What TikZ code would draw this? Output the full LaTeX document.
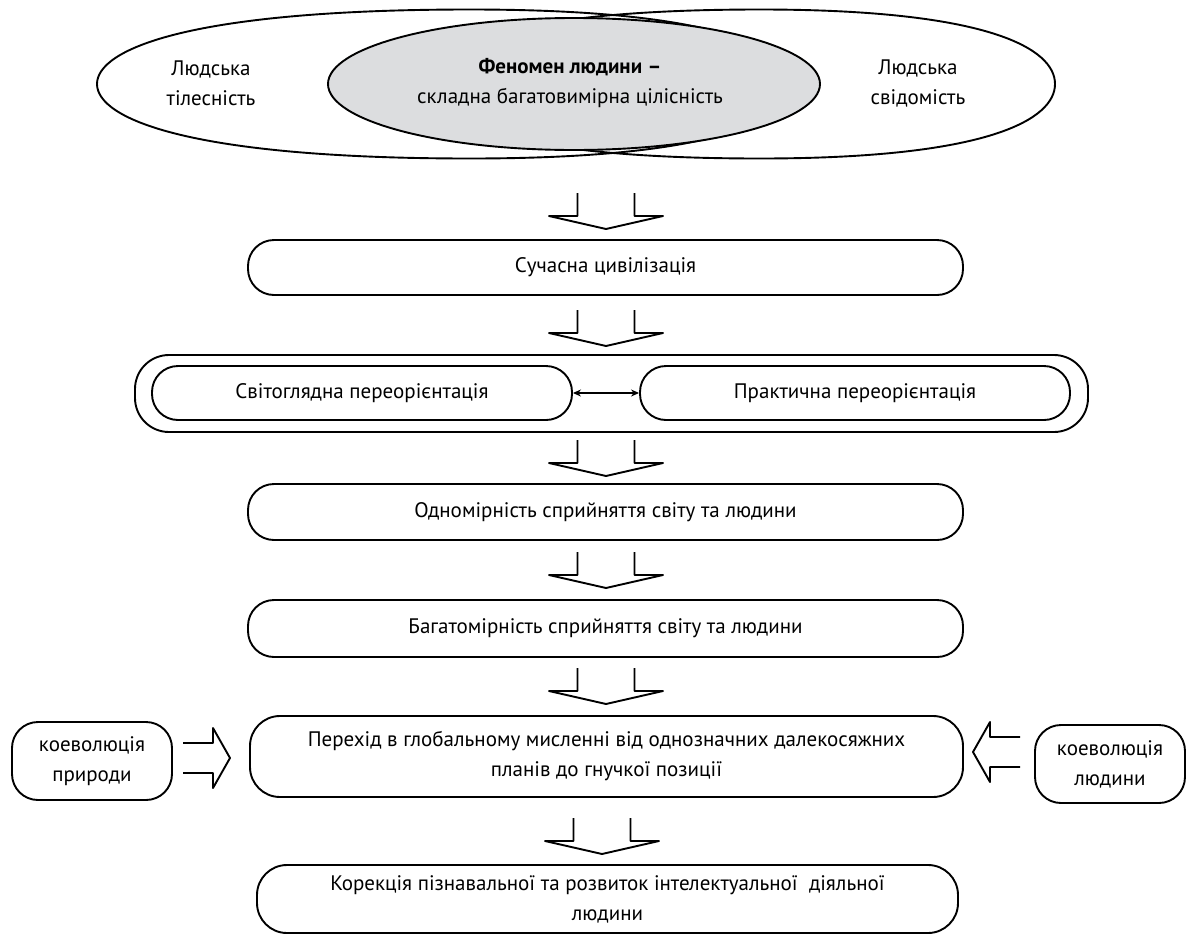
\documentclass[tikz,border=0pt]{standalone}
\usepackage{fontspec}
\setmainfont{PT Sans}
\usetikzlibrary{arrows.meta,shapes.geometric}
\definecolor{gry}{RGB}{220,221,223}
\tikzset{
  txt/.style={font=\fontsize{21}{30}\selectfont, align=center, inner sep=0pt},
  box/.style={draw, line width=1.9pt, rounded corners=26pt, txt},
  blk/.style={line width=1.9pt},
  downarr/.pic={\draw[blk] (-28.5,0) -- (-28.5,23) -- (-57,23) -- (0,36) -- (57,23) -- (28.5,23) -- (28.5,0);},
  rightarr/.pic={\draw[blk] (0,-15) -- (30,-15) -- (30,-30) -- (47,0) -- (30,30) -- (30,15) -- (0,15);},
  leftarr/.pic={\draw[blk] (0,-15) -- (-30,-15) -- (-30,-30) -- (-47,0) -- (-30,30) -- (-30,15) -- (0,15);}
}
\begin{document}
\begin{tikzpicture}[x=1pt,y=-1pt,line join=round]
\useasboundingbox (0,0) rectangle (1195,935);
% top ellipses
\draw[blk] (97,84) .. controls (97,49) and (190,9.5) .. (470,9.5)
  .. controls (720,9.5) and (790,49) .. (790,84)
  .. controls (790,119) and (720,158.5) .. (470,158.5)
  .. controls (190,158.5) and (97,119) .. (97,84) -- cycle;
\draw[blk] (1055,84) .. controls (1055,49) and (990,9.5) .. (760,9.5)
  .. controls (503,9.5) and (430,49) .. (430,84)
  .. controls (430,119) and (503,158.5) .. (760,158.5)
  .. controls (990,158.5) and (1055,119) .. (1055,84) -- cycle;
\node[ellipse, draw, line width=1.9pt, fill=gry, minimum width=492pt, minimum height=132pt, inner sep=0pt] (g) at (574,84) {};
\node[txt] (gt) at (570,83) {\textbf{Феномен людини –}\\складна багатовимірна цілісність};
\node[txt] (lt) at (211,83) {Людська\\тілесність};
\node[txt] (rt) at (918,83) {Людська\\свідомість};

\pic at (606,193) {downarr};
\node[box, minimum width=715pt, minimum height=55pt] (b1) at (605.5,267.5) {Сучасна цивілізація};
\pic at (606,310) {downarr};
\node[draw, line width=1.9pt, rounded corners=34pt, minimum width=953pt, minimum height=77pt] (outer) at (611.5,393.5) {};
\node[box, minimum width=420pt, minimum height=54pt] (L) at (362,393) {Світоглядна переорієнтація};
\node[box, minimum width=430pt, minimum height=54pt] (R) at (855,393) {Практична переорієнтація};
\draw[{Stealth[length=8pt,width=7pt]}-{Stealth[length=8pt,width=7pt]}, line width=1.1pt] (L.east) -- (R.west);
\pic at (606,440) {downarr};
\node[box, minimum width=715pt, minimum height=56pt] (b3) at (605.5,512) {Одномірність сприйняття світу та людини};
\pic at (606,552) {downarr};
\node[box, minimum width=715pt, minimum height=57pt] (b4) at (605.5,628.5) {Багатомірність сприйняття світу та людини};
\pic at (606,668) {downarr};
\node[box, rounded corners=30pt, minimum width=713pt, minimum height=81pt] (b5) at (606.5,756.5) {Перехід в глобальному мисленні від однозначних далекосяжних\\планів до гнучкої позиції};
\node[box, minimum width=160pt, minimum height=78pt] (nl) at (92,761) {коеволюція\\природи};
\node[box, minimum width=150pt, minimum height=78pt] (nr) at (1110,764) {коеволюція\\людини};
\pic at (183,758) {rightarr};
\pic at (1020,752) {leftarr};
\pic at (602,818) {downarr};
\node[box, rounded corners=30pt, minimum width=701pt, minimum height=68pt] (b6) at (607.5,899) {Корекція пізнавальної та розвиток інтелектуальної~ діяльної\\людини};
\end{tikzpicture}
\end{document}
